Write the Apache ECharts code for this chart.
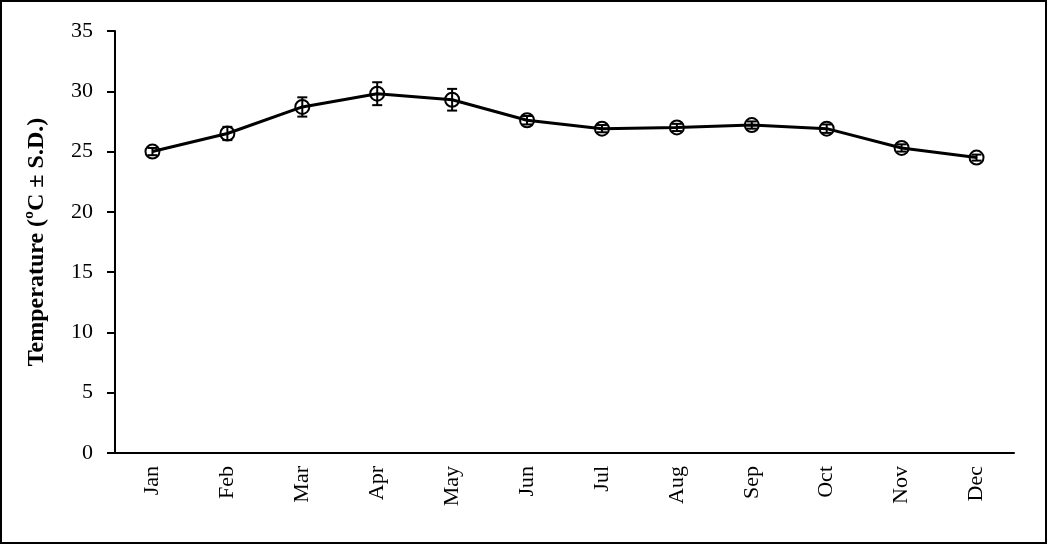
<!DOCTYPE html>
<html>
<head>
<meta charset="utf-8">
<script src="https://cdn.jsdelivr.net/npm/echarts@6/dist/echarts.min.js"></script>
<style>
  html, body { margin: 0; padding: 0; background: #fff; }
  #chart { width: 1048px; height: 545px; }
</style>
</head>
<body>
<div id="chart"></div>
<script>
const months = ["Jan", "Feb", "Mar", "Apr", "May", "Jun", "Jul", "Aug", "Sep", "Oct", "Nov", "Dec"];
const temps = [25.0, 26.5, 28.7, 29.8, 29.3, 27.6, 26.9, 27.0, 27.2, 26.9, 25.3, 24.5];
const sd = [0.3, 0.55, 0.8, 0.95, 0.9, 0.35, 0.3, 0.3, 0.3, 0.35, 0.3, 0.25];

const font = "'Liberation Serif', 'Times New Roman', serif";

// barras de erro (desvio padrão)
const errData = months.map((m, i) => [i, temps[i] - sd[i], temps[i] + sd[i]]);

function renderErr(params, api) {
  const x = api.value(0);
  const lo = api.coord([x, api.value(1)]);
  const hi = api.coord([x, api.value(2)]);
  const cap = 5;
  const style = { stroke: "#000", lineWidth: 2 };
  return {
    type: "group",
    children: [
      { type: "line", shape: { x1: hi[0], y1: hi[1], x2: lo[0], y2: lo[1] }, style },
      { type: "line", shape: { x1: hi[0] - cap, y1: hi[1], x2: hi[0] + cap, y2: hi[1] }, style },
      { type: "line", shape: { x1: lo[0] - cap, y1: lo[1], x2: lo[0] + cap, y2: lo[1] }, style },
    ],
  };
}

const chart = echarts.init(document.getElementById("chart"));
chart.setOption({
  animation: false,
  backgroundColor: "#fff",
  grid: { left: 115, right: 34, top: 31, bottom: 92 },
  graphic: [
    {
      type: "rect",
      shape: { x: 1, y: 1, width: 1045, height: 542 },
      style: { fill: "none", stroke: "#000", lineWidth: 2 },
    },
  ],
  xAxis: {
    type: "category",
    data: months,
    boundaryGap: true,
    axisLine: { lineStyle: { color: "#000", width: 2 } },
    axisTick: { alignWithLabel: false, length: 8, inside: false, lineStyle: { color: "#000", width: 2 } },
    axisLabel: {
      rotate: 90,
      margin: 13,
      color: "#000",
      fontFamily: font,
      fontSize: 22,
      interval: 0,
    },
    splitLine: { show: false },
  },
  yAxis: {
    type: "value",
    min: 0,
    max: 35,
    interval: 5,
    name: "Temperature (\u00baC \u00b1 S.D.)",
    nameLocation: "middle",
    nameGap: 66,
    nameTextStyle: { color: "#000", fontFamily: font, fontSize: 24, fontWeight: "bold" },
    axisLine: { show: true, lineStyle: { color: "#000", width: 2 } },
    axisTick: { show: true, length: 8, lineStyle: { color: "#000", width: 2 } },
    axisLabel: { color: "#000", fontFamily: font, fontSize: 22, margin: 22 },
    splitLine: { show: false },
  },
  series: [
    {
      type: "line",
      data: temps,
      symbol: "circle",
      symbolSize: 14,
      showSymbol: true,
      lineStyle: { color: "#000", width: 3 },
      itemStyle: { color: "rgba(255,255,255,0)", borderColor: "#000", borderWidth: 2 },
      z: 2,
    },
    {
      type: "custom",
      data: errData,
      renderItem: renderErr,
      encode: { x: 0, y: [1, 2] },
      z: 3,
    },
  ],
});
window.addEventListener("resize", function () {
  chart.resize();
});
</script>
</body>
</html>
